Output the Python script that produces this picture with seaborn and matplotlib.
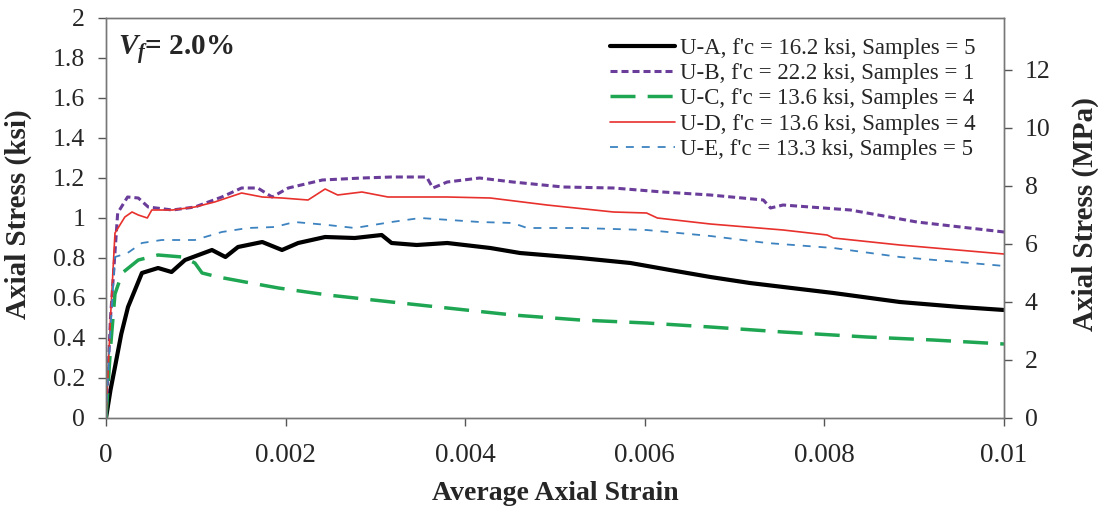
import matplotlib
matplotlib.use("Agg")
import matplotlib.pyplot as plt
import seaborn as sns
import numpy as np
from matplotlib.ticker import FuncFormatter

# ---------------- data ----------------
ua_x = [0, 0.00005, 0.0001, 0.00017, 0.000245, 0.0004, 0.00058, 0.00073, 0.00088, 0.00118, 0.00133,
        0.00147, 0.00174, 0.00196, 0.00214, 0.00244, 0.00277, 0.00307, 0.00318, 0.00346, 0.0038,
        0.00428, 0.00461, 0.00528, 0.00584, 0.00628, 0.00673, 0.00717, 0.0081, 0.00884, 0.00951, 0.01]
ua_y = [0, 0.14, 0.255, 0.42, 0.555, 0.725, 0.75, 0.73, 0.79, 0.84, 0.805,
        0.855, 0.88, 0.84, 0.875, 0.905, 0.90, 0.915, 0.875, 0.865, 0.875,
        0.85, 0.825, 0.80, 0.775, 0.74, 0.705, 0.675, 0.625, 0.58, 0.555, 0.54]

ub_x = [0, 0.00005, 0.00013, 0.00024, 0.00036, 0.00047, 0.00074, 0.00099, 0.00129, 0.00151, 0.00169,
        0.00185, 0.00203, 0.00241, 0.00285, 0.00318, 0.00357, 0.00364, 0.0038, 0.00416, 0.00453,
        0.00509, 0.00565, 0.0062, 0.00673, 0.00732, 0.0074, 0.00754, 0.00829, 0.00903, 0.01]
ub_y = [0, 0.5, 1.025, 1.105, 1.10, 1.055, 1.04, 1.055, 1.105, 1.15, 1.15,
        1.105, 1.15, 1.19, 1.20, 1.205, 1.205, 1.15, 1.18, 1.20, 1.18,
        1.155, 1.15, 1.13, 1.115, 1.09, 1.05, 1.065, 1.04, 0.98, 0.93]

uc_x = [0, 0.00005, 0.0001, 0.00018, 0.00036, 0.00058, 0.00085, 0.00099, 0.00107, 0.00125, 0.00155,
        0.00192, 0.00247, 0.00318, 0.0038, 0.00453, 0.00528, 0.00602, 0.00673, 0.00754, 0.00847,
        0.00921, 0.01]
uc_y = [0, 0.35, 0.62, 0.725, 0.79, 0.815, 0.805, 0.775, 0.725, 0.705, 0.68,
        0.65, 0.615, 0.58, 0.55, 0.515, 0.49, 0.475, 0.455, 0.43, 0.405,
        0.39, 0.37]

ud_x = [0, 0.00005, 0.0001, 0.00021, 0.00029, 0.00036, 0.00046, 0.00051, 0.00074, 0.00099, 0.00121,
        0.00151, 0.00174, 0.00196, 0.00225, 0.00244, 0.00258, 0.00285, 0.00314, 0.0038, 0.00428,
        0.00491, 0.00565, 0.00602, 0.00614, 0.00673, 0.00754, 0.00803, 0.0081, 0.00884, 0.01]
ud_y = [0, 0.5, 0.925, 1.005, 1.03, 1.015, 1.0, 1.04, 1.04, 1.055, 1.08,
        1.125, 1.105, 1.10, 1.09, 1.145, 1.115, 1.13, 1.105, 1.105, 1.10,
        1.065, 1.03, 1.025, 1.0, 0.97, 0.94, 0.915, 0.90, 0.865, 0.82]

ue_x = [0, 0.00005, 0.0001, 0.00024, 0.0004, 0.00062, 0.00099, 0.00129, 0.00158, 0.00188, 0.0021,
        0.00247, 0.00277, 0.00318, 0.0035, 0.00416, 0.00453, 0.00469, 0.00528, 0.00602, 0.00673,
        0.00736, 0.0081, 0.00884, 0.00988, 0.01]
ue_y = [0, 0.45, 0.805, 0.825, 0.875, 0.89, 0.89, 0.93, 0.95, 0.955, 0.98,
        0.965, 0.95, 0.98, 1.0, 0.98, 0.975, 0.95, 0.95, 0.94, 0.91,
        0.875, 0.85, 0.805, 0.765, 0.76]

labels = ["U-A, f'c = 16.2 ksi, Samples = 5",
          "U-B, f'c = 22.2 ksi, Samples = 1",
          "U-C, f'c = 13.6 ksi, Samples = 4",
          "U-D, f'c = 13.6 ksi, Samples = 4",
          "U-E, f'c = 13.3 ksi, Samples = 5"]

x_ticks = [0, 0.002, 0.004, 0.006, 0.008, 0.01]
y_ticks = [0, 0.2, 0.4, 0.6, 0.8, 1.0, 1.2, 1.4, 1.6, 1.8, 2.0]
mpa_ticks = [0, 2, 4, 6, 8, 10, 12]
KSI_TO_MPA = 6.895

# ---------------- style ----------------
sns.set_theme(style="ticks")
plt.rcParams['font.family'] = ['Liberation Serif', 'DejaVu Serif']
plt.rcParams['mathtext.fontset'] = 'custom'
plt.rcParams['mathtext.it'] = 'Liberation Serif:bold:italic'
plt.rcParams['mathtext.rm'] = 'Liberation Serif:bold'

TXT = '#262626'
fig = plt.figure(figsize=(10.98, 5.08), dpi=100)
ax = fig.add_axes([106/1098, 1-418/508, (1004-106)/1098, 400/508])

series = [
    (ua_x, ua_y, dict(color="black", lw=3.0, linestyle="-")),
    (ub_x, ub_y, dict(color="#6a3d9a", lw=2.2, linestyle=(0, (2.3, 1.3)))),
    (uc_x, uc_y, dict(color="#1fa653", lw=2.5, linestyle=(0, (7.2, 3.5)))),
    (ud_x, ud_y, dict(color="#e8302c", lw=1.2, linestyle="-")),
    (ue_x, ue_y, dict(color="#3d83c0", lw=1.3, linestyle=(0, (4.4, 4.4)))),
]
for (xs, ys, st), lab in zip(series, labels):
    sns.lineplot(x=np.array(xs), y=np.array(ys), ax=ax, label=lab, sort=False,
                 estimator=None, **st)

ax.set_xlim(0, 0.01)
ax.set_ylim(0, 2)
ax.set_xticks(x_ticks)
ax.set_yticks(y_ticks)
ax.xaxis.set_major_formatter(FuncFormatter(lambda v, p: "%g" % round(v, 6)))
ax.yaxis.set_major_formatter(FuncFormatter(lambda v, p: "%g" % round(v, 6)))
ax.tick_params(axis='x', direction='out', length=6, width=1, colors='#555555',
               labelcolor=TXT, labelsize=19.5, pad=12)
ax.tick_params(axis='y', direction='out', length=6, width=1, colors='#555555',
               labelcolor=TXT, labelsize=18.5, pad=9)

for s in ax.spines.values():
    s.set_color('#777777')
    s.set_linewidth(1.0)

ax.set_xlabel("Average Axial Strain", fontsize=20, fontweight='bold', color=TXT)
ax.xaxis.set_label_coords(0.5, -0.158)
ax.set_ylabel("Axial Stress (ksi)", fontsize=21, fontweight='bold', color=TXT)
ax.yaxis.set_label_coords(-0.082, 0.51)

ax2 = ax.twinx()
ax2.set_ylim(0, 2 * KSI_TO_MPA)
ax2.set_yticks(mpa_ticks)
ax2.yaxis.set_major_formatter(FuncFormatter(lambda v, p: "%g" % v))
ax2.tick_params(axis='y', direction='out', length=6, width=1, colors='#555555',
                labelcolor=TXT, labelsize=18.5, pad=9)
for s in ax2.spines.values():
    s.set_color('#777777')
    s.set_linewidth(1.0)
ax2.set_ylabel("Axial Stress (MPa)", fontsize=21, fontweight='bold', color=TXT)
ax2.yaxis.set_label_coords(1.075, 0.51)

ax.text(0.013, 0.92, r"$V_f$= 2.0%", transform=ax.transAxes, fontsize=21,
        fontweight='bold', va='center', ha='left', color=TXT)

leg = ax.legend(loc='upper right', bbox_to_anchor=(0.968, 0.951), frameon=False,
                fontsize=16.5, handlelength=2.8, handletextpad=0.22, labelspacing=0.19,
                borderaxespad=0, borderpad=0)
for t in leg.get_texts():
    t.set_color(TXT)

fig.savefig("out.png", dpi=100)
